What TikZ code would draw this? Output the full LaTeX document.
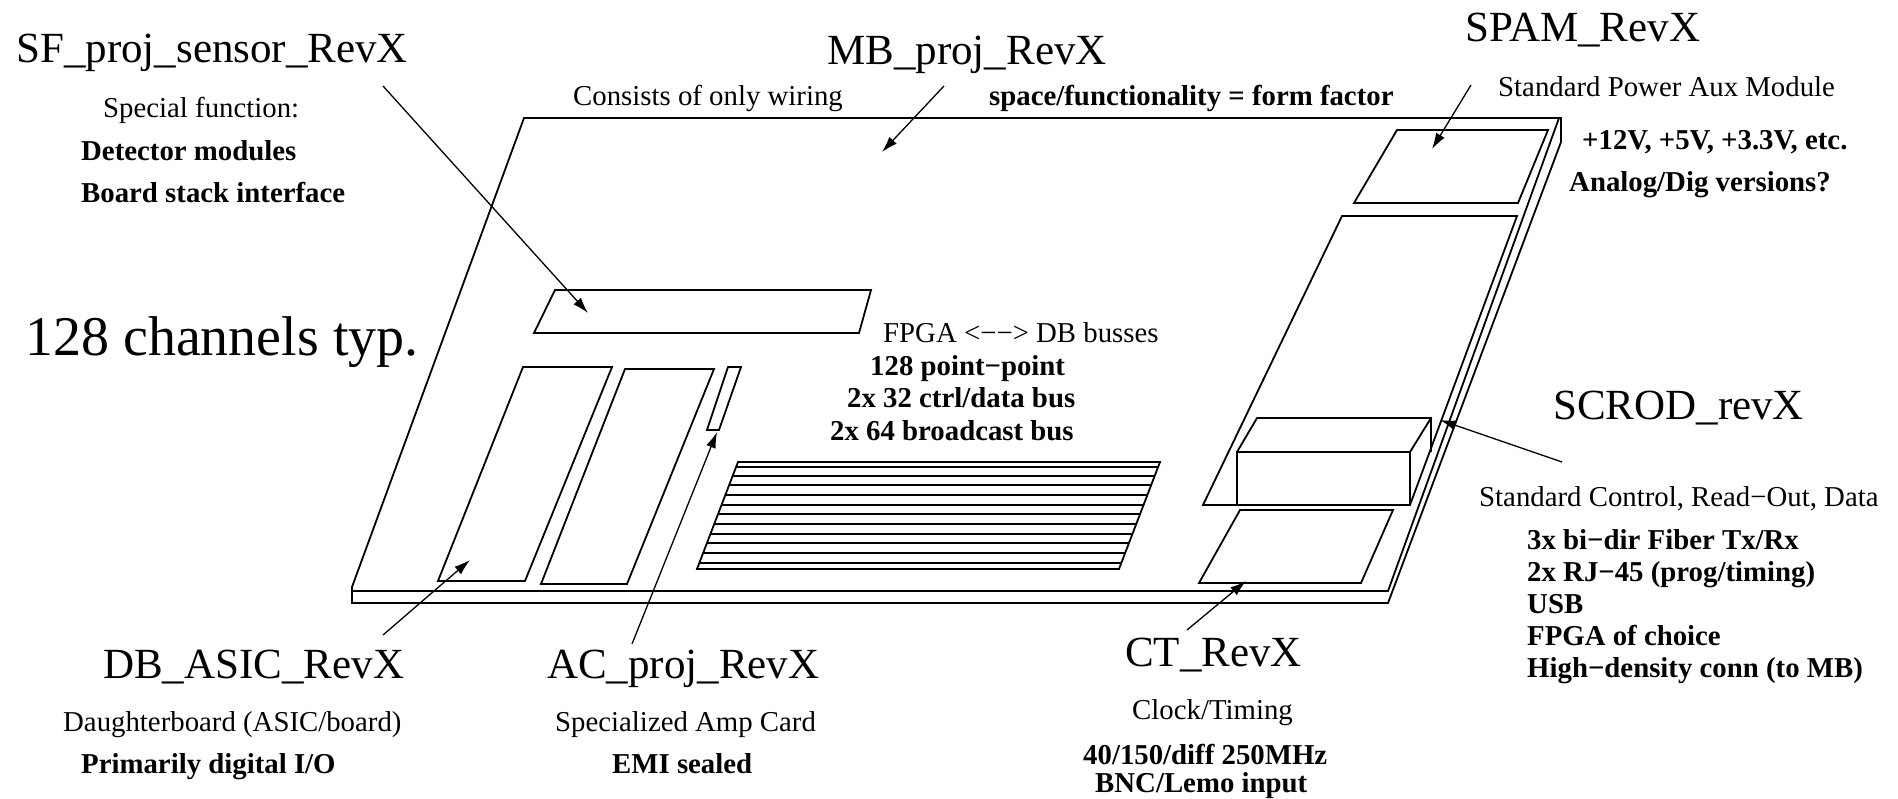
\documentclass[tikz,border=0pt]{standalone}
\usepackage{fontspec}
\setmainfont{Liberation Serif}
\usetikzlibrary{arrows.meta}
\tikzset{
    plate/.style={line width=1.8pt},
    pointer/.style={line width=1.3pt,-{Latex[length=16pt,width=10pt]}},
    name label/.style={anchor=base west,inner sep=0pt,font=\fontsize{43}{50}\selectfont},
    huge label/.style={anchor=base west,inner sep=0pt,font=\fontsize{56}{64}\selectfont},
    plain label/.style={anchor=base west,inner sep=0pt,font=\fontsize{28.8}{34}\selectfont},
    bold label/.style={anchor=base west,inner sep=0pt,font=\fontsize{28.8}{34}\selectfont\bfseries}
}
\begin{document}
\begin{tikzpicture}[x=1pt,y=-1pt]
                \useasboundingbox (0,0) rectangle (1898,799);
                \draw[plate] (352,603) -- (352,587) -- (524,118) -- (1561,118) -- (1561,142) -- (1388,603) -- cycle;
                \draw[plate] (352,591) -- (1388,591) -- (1559,118);
                \draw[plate] (555,290) -- (871,290) -- (859,333) -- (534,333) -- cycle;
                \draw[plate] (523,367) -- (612,367) -- (525,581) -- (438,581) -- cycle;
                \draw[plate] (625,369) -- (714,369) -- (627,584) -- (541,584) -- cycle;
                \draw[plate] (728,367) -- (741,367) -- (719,430) -- (707,430) -- cycle;
                \draw[plate] (1397,130) -- (1548,130) -- (1518,203) -- (1354,203) -- cycle;
                \draw[plate] (1342,216) -- (1517,216) -- (1410,505) -- (1203,505) -- cycle;
                \draw[plate] (1237,505) -- (1237,452) -- (1410,452) -- (1410,505);
                \draw[plate] (1237,452) -- (1257,418) -- (1431,418) -- (1431,452);
                \draw[plate] (1410,452) -- (1431,418);
                \draw[plate] (1240,510) -- (1393,510) -- (1361,583) -- (1199,583) -- cycle;
                \draw[plate] (738,462) -- (1160,462) -- (1119,569) -- (697,569) -- cycle;
                \foreach \busy in {467,476,485,495,505,514,524,534,543,553,563}
                    \draw[plate] ({697+(569-\busy)*0.383},\busy) -- ({1119+(569-\busy)*0.383},\busy);
                \node[name label] (sfname) at (16,63) {SF\_proj\_sensor\_RevX};
                \node[plain label] (sfuse) at (103,118) {Special function:};
                \node[bold label] (sfmod) at (81,161) {Detector modules};
                \node[bold label] (sfstack) at (81,203) {Board stack interface};
                \node[huge label] (chans) at (25,356) {128 channels typ.};
                \node[name label] (mbname) at (827,65) {MB\_proj\_RevX};
                \node[plain label] (mbuse) at (573,106) {Consists of only wiring};
                \node[bold label] (mbform) at (989,106) {space/functionality = form factor};
                \node[name label] (spamname) at (1465,42) {SPAM\_RevX};
                \node[plain label] (spamuse) at (1498,97) {Standard Power Aux Module};
                \node[bold label] (spamvolt) at (1582,150) {+12V, +5V, +3.3V, etc.};
                \node[bold label] (spamver) at (1569,192) {Analog/Dig versions?};
                \node[plain label] (busname) at (883,343) {FPGA <−−> DB busses};
                \node[bold label] (busa) at (870,376) {128 point−point};
                \node[bold label] (busb) at (847,407) {2x 32 ctrl/data bus};
                \node[bold label] (busc) at (830,440) {2x 64 broadcast bus};
                \node[name label] (scrodname) at (1553,420) {SCROD\_revX};
                \node[plain label] (scroduse) at (1479,506) {Standard Control, Read−Out, Data};
                \node[bold label] (scroda) at (1527,549) {3x bi−dir Fiber Tx/Rx};
                \node[bold label] (scrodb) at (1527,581) {2x RJ−45 (prog/timing)};
                \node[bold label] (scrodc) at (1527,613) {USB};
                \node[bold label] (scrodd) at (1527,645) {FPGA of choice};
                \node[bold label] (scrode) at (1527,677) {High−density conn (to MB)};
                \node[name label] (ctname) at (1125,666) {CT\_RevX};
                \node[plain label] (ctuse) at (1132,719) {Clock/Timing};
                \node[bold label] (ctfreq) at (1083,764) {40/150/diff 250MHz};
                \node[bold label] (ctin) at (1095,792) {BNC/Lemo input};
                \node[name label] (acname) at (547,678) {AC\_proj\_RevX};
                \node[plain label] (acuse) at (555,731) {Specialized Amp Card};
                \node[bold label] (acemi) at (612,773) {EMI sealed};
                \node[name label] (dbname) at (103,678) {DB\_ASIC\_RevX};
                \node[plain label] (dbuse) at (63,731) {Daughterboard (ASIC/board)};
                \node[bold label] (dbio) at (81,773) {Primarily digital I/O};
                \coordinate (sftail) at (383,86);
                \coordinate (sftip) at (588,313);
                \coordinate (mbtail) at (944,86);
                \coordinate (mbtip) at (882,152);
                \coordinate (spamtail) at (1471,85);
                \coordinate (spamtip) at (1432,149);
                \coordinate (scrodtail) at (1562,462);
                \coordinate (scrodtip) at (1440,420);
                \coordinate (cttail) at (1187,630);
                \coordinate (cttip) at (1246,581);
                \coordinate (actail) at (632,644);
                \coordinate (actip) at (717,432);
                \coordinate (dbtail) at (383,635);
                \coordinate (dbtip) at (470,560);
                \draw[pointer] (sftail) -- (sftip);
                \draw[pointer] (mbtail) -- (mbtip);
                \draw[pointer] (spamtail) -- (spamtip);
                \draw[pointer] (scrodtail) -- (scrodtip);
                \draw[pointer] (cttail) -- (cttip);
                \draw[pointer] (actail) -- (actip);
                \draw[pointer] (dbtail) -- (dbtip);
            \end{tikzpicture}
\end{document}
